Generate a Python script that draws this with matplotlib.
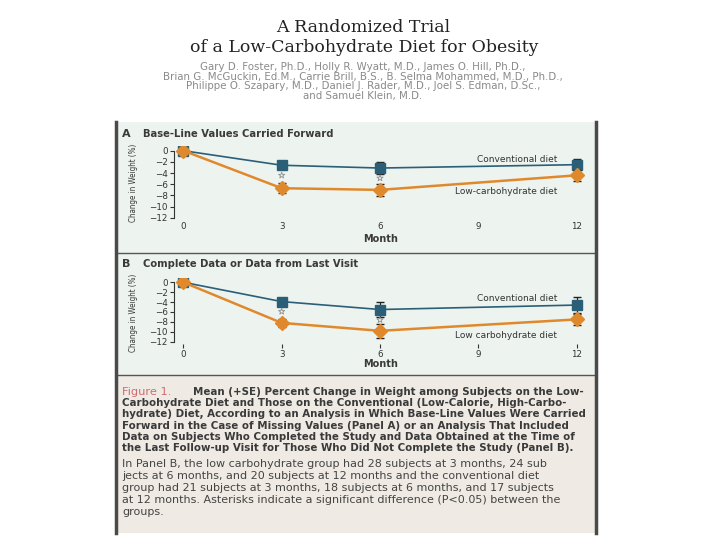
import matplotlib
matplotlib.use("Agg")
import matplotlib.pyplot as plt
from matplotlib.patches import Rectangle

# data (percent change in weight, mean and SE)
months = [0, 3, 6, 12]
conv_a = [0, -2.6, -3.1, -2.5]
conv_a_se = [0, 0.5, 1.0, 1.0]
low_a = [0, -6.7, -7.0, -4.4]
low_a_se = [0, 0.9, 1.1, 1.0]
conv_b = [0, -3.9, -5.5, -4.6]
conv_b_se = [0, 0.8, 1.5, 1.7]
low_b = [0, -8.2, -9.8, -7.5]
low_b_se = [0, 0.8, 1.4, 1.1]
star_x = [3, 6]
star_a = [-4.4, -4.9]
star_b = [-5.9, -7.6]
xticks = [0, 3, 6, 9, 12]
yticks = [0, -2, -4, -6, -8, -10, -12]

title = ["A Randomized Trial", "of a Low-Carbohydrate Diet for Obesity"]
authors = [
    "Gary D. Foster, Ph.D., Holly R. Wyatt, M.D., James O. Hill, Ph.D.,",
    "Brian G. McGuckin, Ed.M., Carrie Brill, B.S., B. Selma Mohammed, M.D., Ph.D.,",
    "Philippe O. Szapary, M.D., Daniel J. Rader, M.D., Joel S. Edman, D.Sc.,",
    "and Samuel Klein, M.D.",
]
caption_bold = [
    "Mean (+SE) Percent Change in Weight among Subjects on the Low-",
    "Carbohydrate Diet and Those on the Conventional (Low-Calorie, High-Carbo-",
    "hydrate) Diet, According to an Analysis in Which Base-Line Values Were Carried",
    "Forward in the Case of Missing Values (Panel A) or an Analysis That Included",
    "Data on Subjects Who Completed the Study and Data Obtained at the Time of",
    "the Last Follow-up Visit for Those Who Did Not Complete the Study (Panel B).",
]
caption_plain = [
    "In Panel B, the low carbohydrate group had 28 subjects at 3 months, 24 sub",
    "jects at 6 months, and 20 subjects at 12 months and the conventional diet",
    "group had 21 subjects at 3 months, 18 subjects at 6 months, and 17 subjects",
    "at 12 months. Asterisks indicate a significant difference (P<0.05) between the",
    "groups.",
]

W, H = 720, 540
BLUE = "#2b5f78"
ORANGE = "#e0892c"
DARK = "#3a3a3a"
GRID_BG = "#edf3ef"
CAP_BG = "#efebe4"

plt.rcParams.update({"font.family": "DejaVu Sans"})
fig = plt.figure(figsize=(7.2, 5.4), dpi=100, facecolor="white")


def fx(x):
    return x / W


def fy(y):
    return 1 - y / H


def rect_px(x0, y0, x1, y1, **kw):
    fig.patches.append(Rectangle((fx(x0), fy(y1)), fx(x1) - fx(x0), (y1 - y0) / H,
                                 transform=fig.transFigure, **kw))


# background boxes
rect_px(116, 122, 596, 375, facecolor=GRID_BG, edgecolor="none", zorder=-5)
rect_px(116, 375, 596, 533, facecolor=CAP_BG, edgecolor="none", zorder=-5)
for y in (253, 375):
    fig.add_artist(plt.Line2D([fx(116), fx(596)], [fy(y), fy(y)], color="#555555",
                              lw=1.0, zorder=-4))
for x in (116, 596):
    fig.add_artist(plt.Line2D([fx(x), fx(x)], [fy(122), fy(533)], color="#4a4a4a",
                              lw=2.5, zorder=-4))

# title and authors
fig.text(fx(363), fy(27.5), title[0], ha="center", va="center", family="DejaVu Serif",
         fontsize=12.5, color="#222222")
fig.text(fx(364), fy(47), title[1], ha="center", va="center", family="DejaVu Serif",
         fontsize=12.5, color="#222222")
for i, line in enumerate(authors):
    fig.text(fx(363), fy(67 + i * 9.6), line, ha="center", va="center",
             fontsize=7.4, color="#8a8a8a")


def panel(top, bottom, conv, conv_se, low, low_se, stars, low_label, show_ticks,
          conv_lab_y, low_lab_y):
    ax = fig.add_axes([fx(173.5), fy(bottom), (586.5 - 173.5) / W, (bottom - top) / H])
    ax.set_facecolor("none")
    ax.set_xlim(-0.3, 12.3)
    ax.set_ylim(-12.5, 0.8)
    ax.errorbar(months, conv, yerr=conv_se, color=BLUE, lw=1.2, marker="s", ms=6.5,
                capsize=3, elinewidth=0.9, ecolor="#222222", zorder=3)
    ax.errorbar(months, low, yerr=low_se, color=ORANGE, lw=1.8, marker="D", ms=7.5,
                capsize=3, elinewidth=0.9, ecolor="#222222", zorder=4)
    ax.scatter(star_x, stars, marker="*", s=22, facecolor="none", edgecolor="#8f8f8f",
               linewidth=0.6, zorder=5)
    ax.text(11.4, conv_lab_y, "Conventional diet", ha="right", va="center",
            fontsize=6.5, color="#333333")
    ax.text(11.4, low_lab_y, low_label, ha="right", va="center",
            fontsize=6.5, color="#333333")
    for s in ("top", "right", "bottom"):
        ax.spines[s].set_visible(False)
    ax.spines["left"].set_bounds(-12, 0)
    ax.spines["left"].set_color("#333333")
    ax.spines["left"].set_linewidth(0.8)
    ax.set_yticks(yticks)
    ax.set_xticks(xticks)
    ax.tick_params(axis="y", length=3, width=0.8, color="#333333", labelsize=6.3,
                   pad=1, labelcolor="#333333")
    ax.tick_params(axis="x", length=3 if show_ticks else 0, width=0.8, color="#333333",
                   labelsize=6.3, pad=1, labelcolor="#333333")
    return ax


panel(146.2, 220.7, conv_a, conv_a_se, low_a, low_a_se, star_a,
      "Low-carbohydrate diet", False, -1.5, -7.3)
panel(278.3, 344.2, conv_b, conv_b_se, low_b, low_b_se, star_b,
      "Low carbohydrate diet", True, -3.2, -10.8)

# panel headings, axis labels
for letter, text, y in (("A", "Base-Line Values Carried Forward", 134),
                        ("B", "Complete Data or Data from Last Visit", 264)):
    fig.text(fx(122), fy(y), letter, ha="left", va="center", fontsize=8,
             fontweight="bold", color=DARK)
    fig.text(fx(143), fy(y), text, ha="left", va="center", fontsize=7.2,
             fontweight="bold", color=DARK)
for y in (183, 313):
    fig.text(fx(133), fy(y), "Change in Weight (%)", rotation=90, ha="center",
             va="center", fontsize=5.8, color=DARK, fontstretch="condensed")
for y in (239, 364):
    fig.text(fx(381), fy(y), "Month", ha="center", va="center", fontsize=7,
             fontweight="bold", color=DARK)

# caption
fig.text(fx(122), fy(392), "Figure 1.", ha="left", va="center", fontsize=8.2,
         color="#d06b72")
fig.text(fx(193), fy(392), caption_bold[0], ha="left", va="center", fontsize=7.4,
         color=DARK, fontweight="bold")
for i, line in enumerate(caption_bold[1:], start=1):
    fig.text(fx(122), fy(392 + i * 11.2), line, ha="left", va="center",
             fontsize=7.4, color=DARK, fontweight="bold")
for i, line in enumerate(caption_plain):
    fig.text(fx(122), fy(464 + i * 12), line, ha="left", va="center",
             fontsize=8.0, color="#444444")

fig.savefig("out.png", dpi=100, facecolor="white")
